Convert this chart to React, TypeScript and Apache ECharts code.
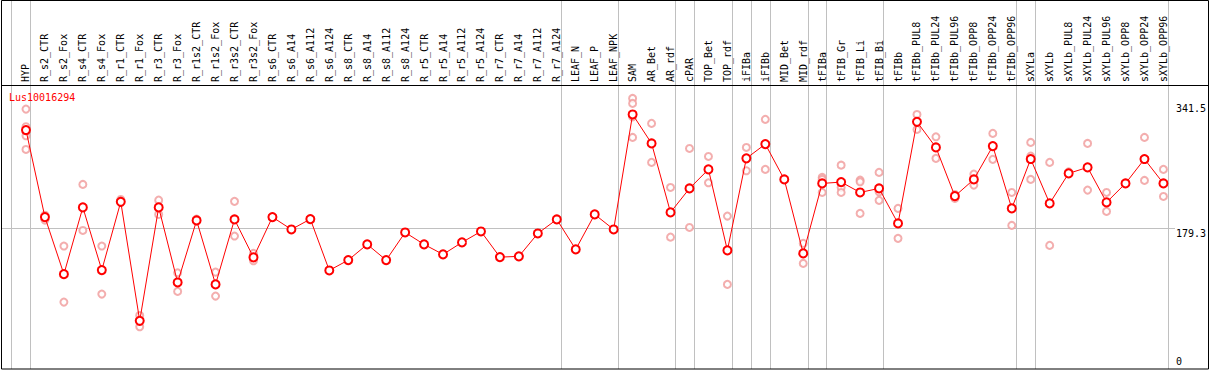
import React, { useEffect, useRef } from "react";
import * as echarts from "echarts";

const chartTitle = "Lus10016294";

const categories = [
  "HYP", "R_s2_CTR", "R_s2_Fox", "R_s4_CTR", "R_s4_Fox", "R_r1_CTR", "R_r1_Fox", "R_r3_CTR", "R_r3_Fox",
  "R_r1s2_CTR", "R_r1s2_Fox", "R_r3s2_CTR", "R_r3s2_Fox", "R_s6_CTR", "R_s6_A14", "R_s6_A112", "R_s6_A124",
  "R_s8_CTR", "R_s8_A14", "R_s8_A112", "R_s8_A124", "R_r5_CTR", "R_r5_A14", "R_r5_A112", "R_r5_A124",
  "R_r7_CTR", "R_r7_A14", "R_r7_A112", "R_r7_A124", "LEAF_N", "LEAF_P", "LEAF_NPK", "SAM", "AR_Bet", "AR_rdf",
  "cPAR", "TOP_Bet", "TOP_rdf", "iFIBa", "iFIBb", "MID_Bet", "MID_rdf", "tFIBa", "tFIB_Gr", "tFIB_Li", "tFIB_Bi",
  "tFIBb", "tFIBb_PUL8", "tFIBb_PUL24", "tFIBb_PUL96", "tFIBb_OPP8", "tFIBb_OPP24", "tFIBb_OPP96", "sXYLa",
  "sXYLb", "sXYLb_PUL8", "sXYLb_PUL24", "sXYLb_PUL96", "sXYLb_OPP8", "sXYLb_OPP24", "sXYLb_OPP96",
];

const meanValues = [
  306.5, 193.6, 119.6, 206.2, 124.8, 213.4, 59, 206.2, 108.8,
  189.3, 106.3, 190.6, 141.3, 193.6, 177.6, 191, 124.4,
  137.8, 158.2, 137.8, 173.7, 158.2, 145.2, 160.8, 175,
  141.7, 142.6, 172.4, 190.6, 151.7, 197.1, 177.6, 326.8, 289.2, 199.7,
  230.8, 255.5, 150.4, 269.8, 288.3, 242.5, 146.5, 237.3, 239, 225.6, 230.8,
  185.4, 317.2, 284, 220.8, 242.5, 285.7, 204.9, 268.9,
  211.4, 250.3, 258.1, 212.7, 237.3, 268.9, 237.3,
];

const replicateValues: number[][] = [
  [333.7, 310.8, 299.1, 281.4], [196, 189.7], [156, 83.3], [236, 176.3], [156, 93.7], [216.5, 214], [66, 51.3], [215.6, 197], [121.3, 97.2],
  [191, 188.4], [122.2, 91.1], [214, 169], [146.5, 136.9], [], [], [], [],
  [], [], [], [], [], [], [], [],
  [], [], [], [], [], [], [], [347.6, 341.1, 323.7, 297], [315.2, 264.6], [232.1, 167.6],
  [282.7, 180.2], [272.3, 238.1], [194.9, 106.3], [284, 253.7], [320.4, 255.5], [], [159.5, 133.5], [245.1, 242.5, 225.6], [261, 232.1, 225.6], [241.6, 239.4, 198.4], [251.6, 226.4, 215.3],
  [204.9, 166], [326.8, 307.4], [297.8, 269.8], [223, 217.9], [249.4, 235.1], [302.2, 268.5], [225.6, 182.8], [290.5, 272.7, 242.5],
  [264.6, 156.9], [252.4], [289.2, 228.6], [225.6, 201], [], [297, 241.2], [255.5, 220.4],
];

const yTicksTop = [179.3, 341.5];
const yTicksBottom = [0];
const gridLineValue = 179.3;
const groupBreaksAfter = [-1, 0, 28, 31, 34, 35, 37, 38, 39, 41, 42, 45, 52, 53, 60];

const FONT = "DejaVu Sans Mono";

export default function App() {
  const ref = useRef<HTMLDivElement>(null);

  useEffect(() => {
    document.body.style.margin = "0";
    if (!ref.current) return;
    const chart = echarts.init(ref.current, undefined, { renderer: "svg" });

    const repData: [number, number][] = [];
    replicateValues.forEach((arr, i) => arr.forEach((v) => repData.push([i, v])));

    const yLabelBase = {
      show: true,
      margin: 3,
      fontFamily: FONT,
      fontSize: 10,
      color: "#000",
      formatter: (v: number) => String(v),
    };

    chart.setOption({
      animation: false,
      backgroundColor: "#fff",
      title: {
        text: chartTitle,
        left: 9,
        top: 92,
        padding: 0,
        textStyle: { color: "#ff0000", fontSize: 10, fontWeight: "normal", fontFamily: FONT },
      },
      grid: { left: 16.5, top: 85, width: 1159, height: 284 },
      xAxis: {
        type: "category",
        data: categories,
        position: "top",
        boundaryGap: true,
        axisLine: { show: false },
        axisTick: { show: false },
        splitLine: { show: false },
        axisLabel: { rotate: 90, interval: 0, fontFamily: FONT, fontSize: 10, color: "#000", margin: 3 },
      },
      yAxis: [
        {
          type: "value",
          min: -3.5,
          max: 365,
          position: "right",
          axisLine: { show: false },
          axisTick: { show: false },
          splitLine: { show: false },
          axisLabel: { ...yLabelBase, customValues: yTicksTop, verticalAlign: "top" },
        },
        {
          type: "value",
          min: -3.5,
          max: 365,
          position: "right",
          axisLine: { show: false },
          axisTick: { show: false },
          splitLine: { show: false },
          axisLabel: { ...yLabelBase, customValues: yTicksBottom, verticalAlign: "bottom" },
        },
      ],
      series: [
        {
          type: "scatter",
          data: repData,
          symbol: "emptyCircle",
          symbolSize: 7,
          itemStyle: { color: "#f09a9a", borderColor: "#f09a9a", borderWidth: 1.3 },
          z: 3,
        },
        {
          type: "line",
          data: meanValues,
          symbol: "emptyCircle",
          symbolSize: 8,
          showSymbol: true,
          lineStyle: { color: "#ff0000", width: 1 },
          itemStyle: { color: "#ff0000", borderColor: "#ff0000", borderWidth: 1.6 },
          z: 4,
        },
      ],
    });

    const x0 = chart.convertToPixel({ xAxisIndex: 0 }, 0) as number;
    const x1 = chart.convertToPixel({ xAxisIndex: 0 }, 1) as number;
    const band = x1 - x0;
    const gy = Math.round(chart.convertToPixel({ yAxisIndex: 0 }, gridLineValue) as number) + 0.5;

    const sepLines = groupBreaksAfter.map((i) => {
      const x = Math.round(x0 + band * i + 4.3) + 0.5;
      return {
        type: "line",
        z: 0,
        shape: { x1: x, y1: 0, x2: x, y2: 369 },
        style: { stroke: "#c0c0c0", lineWidth: 1 },
      };
    });

    chart.setOption({
      graphic: [
        ...sepLines,
        {
          type: "line",
          z: 0,
          shape: { x1: 1, y1: gy, x2: 1175, y2: gy },
          style: { stroke: "#c0c0c0", lineWidth: 1 },
        },
        {
          type: "line",
          z: 1,
          shape: { x1: 1, y1: 85.5, x2: 1208, y2: 85.5 },
          style: { stroke: "#000", lineWidth: 1 },
        },
        {
          type: "rect",
          z: 1,
          shape: { x: 1.5, y: 0.5, width: 1207, height: 368.5 },
          style: { fill: "none", stroke: "#000", lineWidth: 1 },
        },
      ],
    });

    return () => chart.dispose();
  }, []);

  return <div ref={ref} style={{ width: 1209, height: 370 }} />;
}
